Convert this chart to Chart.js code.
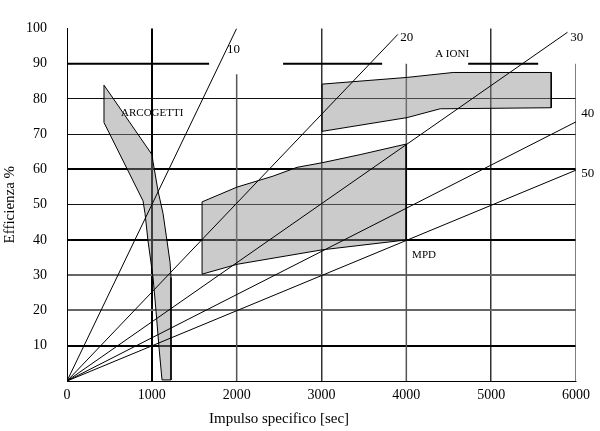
<!DOCTYPE html>
<html>
<head>
<meta charset="utf-8">
<script src="https://cdn.jsdelivr.net/npm/chart.js@4.4.1/dist/chart.umd.min.js"></script>
<style>
  html, body { margin: 0; padding: 0; background: #fff; }
  canvas { display: block; }
</style>
</head>
<body>
<canvas id="chart" width="600" height="431"></canvas>
<script>
// Efficienza vs impulso specifico
const rayNames = ['10', '20', '30', '40', '50'];
const rayEnds = [[2000, 100], [3900, 98.3], [5900, 98.9], [6000, 73.5], [6000, 59.8]];
const rayLabelAt = [[1887, 93.9], [3927, 97.5], [5932, 97.5], [6061, 75.8], [6061, 58.9]];

const arcogetti = [[436, 83.9], [1002, 64.2], [1014, 62.2], [1073, 53.9], [1132, 47.5], [1179, 39.7],
  [1215, 33.6], [1226, 29.4], [1226, 0.3], [1120, 0.3], [1085, 9.4], [1050, 19.7], [1014, 29.4],
  [955, 39.7], [920, 47.5], [896, 51.1], [436, 73.3], [436, 83.9]];
const ioni = [[3007, 84.2], [4009, 86.1], [4552, 87.5], [5708, 87.5], [5708, 77.5], [4399, 77.2],
  [4009, 74.7], [3007, 70.8], [3007, 84.2]];
const mpd = [[1592, 50.8], [2005, 55.0], [2429, 58.1], [2712, 60.6], [3007, 61.9], [3455, 64.2],
  [3998, 67.2], [3998, 40.0], [3007, 37.2], [2005, 33.1], [1592, 30.3], [1592, 50.8]];

const regionNames = ['ARCOGETTI', 'A IONI', 'MPD'];
const regionLabelAt = [[637, 76.1], [4340, 92.8], [4068, 35.8]];

// the 90% line is broken around the labels, some verticals stop short of 100
const line90Pieces = [[0, 1675], [2547, 3715], [4729, 5554]];
const shortVerticals = [[2000, 87], [4000, 90], [6000, 90]];

const pts = arr => arr.map(p => ({ x: p[0], y: p[1] }));
const serif = '"Liberation Serif", "Times New Roman", serif';

const datasets = [];

rayEnds.forEach((end, i) => {
  datasets.push({
    label: 'ray ' + rayNames[i],
    data: pts([[0, 0], end]),
    borderColor: '#000',
    borderWidth: 1,
    pointRadius: 0,
    fill: false,
    order: 1
  });
});

[arcogetti, ioni, mpd].forEach((poly, i) => {
  datasets.push({
    label: regionNames[i],
    data: pts(poly),
    borderColor: '#000',
    borderWidth: 1,
    backgroundColor: 'rgba(140,140,140,0.45)',
    pointRadius: 0,
    fill: 'shape',
    order: 2
  });
});

line90Pieces.forEach(seg => {
  datasets.push({
    data: pts([[seg[0], 90], [seg[1], 90]]),
    borderColor: '#000',
    borderWidth: 2,
    pointRadius: 0,
    fill: false,
    order: 3
  });
});

shortVerticals.forEach(v => {
  datasets.push({
    data: pts([[v[0], 0], [v[0], v[1]]]),
    borderColor: '#555',
    borderWidth: 1.5,
    pointRadius: 0,
    fill: false,
    order: 3
  });
});

const notes = {
  id: 'notes',
  afterDatasetsDraw(chart) {
    const { ctx } = chart;
    const x = chart.scales.x, y = chart.scales.y;
    ctx.save();
    ctx.fillStyle = '#000';
    ctx.textBaseline = 'middle';
    ctx.textAlign = 'left';
    ctx.font = '13px ' + serif;
    rayNames.forEach((t, i) => {
      ctx.fillText(t, x.getPixelForValue(rayLabelAt[i][0]), y.getPixelForValue(rayLabelAt[i][1]));
    });
    ctx.font = '11px ' + serif;
    regionNames.forEach((t, i) => {
      ctx.fillText(t, x.getPixelForValue(regionLabelAt[i][0]), y.getPixelForValue(regionLabelAt[i][1]));
    });
    ctx.font = '15px ' + serif;
    ctx.textAlign = 'center';
    ctx.fillText('Impulso specifico [sec]', x.getPixelForValue(2500), chart.height - 12);
    ctx.restore();
  }
};

const hGrid = v => {
  if (v === 0 || v === 90 || v === 100) return ['transparent', 1];
  if ([60, 40, 10].includes(v)) return ['#000', 2];
  if ([30, 20].includes(v)) return ['#666', 2];
  return ['#111', 1];
};

new Chart(document.getElementById('chart'), {
  type: 'line',
  data: { datasets },
  plugins: [notes],
  options: {
    responsive: false,
    animation: false,
    layout: { padding: { top: 21, right: 24, bottom: 0, left: 0 } },
    plugins: { legend: { display: false }, tooltip: { enabled: false } },
    scales: {
      x: {
        type: 'linear',
        min: 0,
        max: 6000,
        afterFit: s => { s.height = 50; },
        ticks: {
          stepSize: 1000,
          autoSkip: false,
          maxRotation: 0,
          padding: 6,
          color: '#000',
          font: { family: serif, size: 14 },
          callback: v => String(v)
        },
        grid: {
          drawTicks: false,
          color: c => (c.tick && [1000, 3000, 5000].includes(c.tick.value)) ? (c.tick.value === 1000 ? '#000' : '#333') : 'transparent',
          lineWidth: c => (c.tick && c.tick.value === 1000) ? 2 : 1.5
        },
        border: { display: true, color: '#000', width: 1 }
      },
      y: {
        min: 0,
        max: 100,
        afterFit: s => { s.width = 67; },
        title: {
          display: true,
          text: 'Efficienza %',
          color: '#000',
          font: { family: serif, size: 15 },
          padding: { top: 1, bottom: 0 }
        },
        ticks: {
          stepSize: 10,
          autoSkip: false,
          padding: 20,
          color: '#000',
          font: { family: serif, size: 14 },
          callback: v => v === 0 ? '' : String(v)
        },
        grid: {
          drawTicks: false,
          color: c => hGrid(c.tick ? c.tick.value : 0)[0],
          lineWidth: c => hGrid(c.tick ? c.tick.value : 0)[1]
        },
        border: { display: true, color: '#000', width: 1 }
      }
    }
  }
});
</script>
</body>
</html>
